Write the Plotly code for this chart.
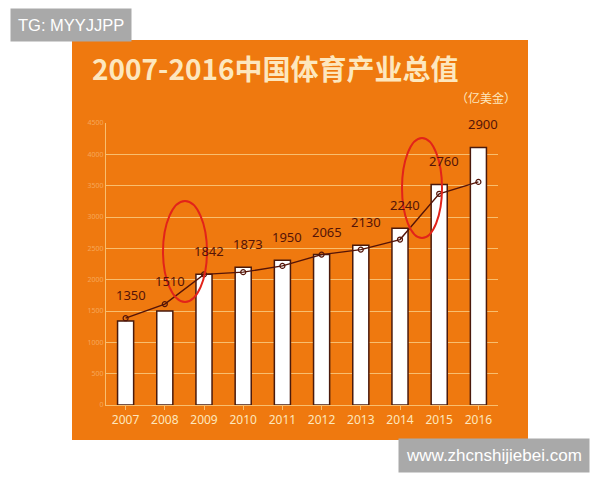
import plotly.graph_objects as go

years = ["2007", "2008", "2009", "2010", "2011", "2012", "2013", "2014", "2015", "2016"]
label_values = [1350, 1510, 1842, 1873, 1950, 2065, 2130, 2240, 2760, 2900]
# bar heights and line points as drawn on the picture's (stylised) axis
bar_heights = [1340, 1500, 2085, 2200, 2310, 2400, 2550, 2820, 3520, 4110]
line_values = [1385, 1610, 2085, 2120, 2220, 2400, 2480, 2640, 3370, 3560]
y_ticks = [0, 500, 1000, 1500, 2000, 2500, 3000, 3500, 4000, 4500]

ORANGE = "#EF790F"
MAROON = "#541408"
GRID = "#F8BE6E"
CREAM = "#FDE7BE"

fig = go.Figure()

fig.add_trace(go.Bar(
    x=years, y=bar_heights,
    marker=dict(color="white", line=dict(color="#4A1A0C", width=1.5)),
    hoverinfo="skip",
))
fig.add_trace(go.Scatter(
    x=years, y=line_values, mode="lines+markers",
    line=dict(color=MAROON, width=1.4),
    marker=dict(symbol="circle-open", size=5, color=MAROON, line=dict(width=1.2)),
    hoverinfo="skip",
))

# value labels: x given as category index (numeric strings would be read as indices)
for i, (lab, b, l) in enumerate(zip(label_values, bar_heights, line_values)):
    fig.add_annotation(
        x=i, y=max(b, l), text=str(lab), showarrow=False,
        yanchor="bottom", yshift=12, xshift=5,
        font=dict(family="Noto Sans, DejaVu Sans", size=13, color=MAROON),
    )

# orange background panel (image area)
W, H = 600, 480
L, R, T, B = 106, 102, 123, 75
pw, ph = W - L - R, H - T - B
def px(x):
    return (x - L) / pw
def py(y):
    return 1 - (y - T) / ph

fig.add_shape(type="rect", xref="paper", yref="paper",
              x0=px(72), x1=px(528), y0=py(440), y1=py(40),
              fillcolor=ORANGE, line=dict(width=0), layer="below")

# red ellipses
fig.add_shape(type="circle", xref="paper", yref="paper",
              x0=px(163), x1=px(207), y0=py(302), y1=py(201),
              line=dict(color="#E2231A", width=2), fillcolor="rgba(0,0,0,0)")
fig.add_shape(type="circle", xref="paper", yref="paper",
              x0=px(402), x1=px(442), y0=py(238), y1=py(138),
              line=dict(color="#E2231A", width=2), fillcolor="rgba(0,0,0,0)")

# title & unit
fig.add_annotation(xref="paper", yref="paper", x=px(90), y=py(68),
                   xanchor="left", yanchor="middle", showarrow=False,
                   text="<b>2007-2016中国体育产业总值</b>",
                   font=dict(family="Noto Sans CJK SC", size=28, color=CREAM))
fig.add_annotation(xref="paper", yref="paper", x=px(518), y=py(97),
                   xanchor="right", yanchor="middle", showarrow=False,
                   text="（亿美金）",
                   font=dict(family="Noto Sans CJK SC", size=12, color=CREAM))

# watermarks
fig.add_annotation(xref="paper", yref="paper", x=px(10), y=py(25),
                   xanchor="left", yanchor="middle", showarrow=False,
                   text="TG: MYYJJPP", bgcolor="#A9A9A9", borderpad=7,
                   font=dict(family="Liberation Sans, Arial", size=16.5, color="white"))
fig.add_annotation(xref="paper", yref="paper", x=px(590), y=py(455),
                   xanchor="right", yanchor="middle", showarrow=False,
                   text="www.zhcnshijiebei.com", bgcolor="#A9A9A9", borderpad=7,
                   font=dict(family="Liberation Sans, Arial", size=17, color="white"))

fig.update_layout(
    width=W, height=H,
    margin=dict(l=L, r=R, t=T, b=B),
    paper_bgcolor="white", plot_bgcolor="rgba(0,0,0,0)",
    showlegend=False, bargap=0.59,
    xaxis=dict(type="category", range=[-0.5, len(years) - 0.5],
               showgrid=False, showline=True, linecolor=GRID, linewidth=1,
               ticks="outside", tickcolor=GRID, ticklen=4,
               tickfont=dict(family="Noto Sans, DejaVu Sans", size=12, color=CREAM),
               fixedrange=True),
    yaxis=dict(range=[0, 4500], tickvals=y_ticks,
               showgrid=True, gridcolor=GRID, gridwidth=1, zeroline=False,
               showline=True, linecolor=GRID, linewidth=1,
               tickfont=dict(family="Noto Sans, DejaVu Sans", size=7, color="#F6A75A"),
               fixedrange=True),
)

fig.write_html("out.html")
